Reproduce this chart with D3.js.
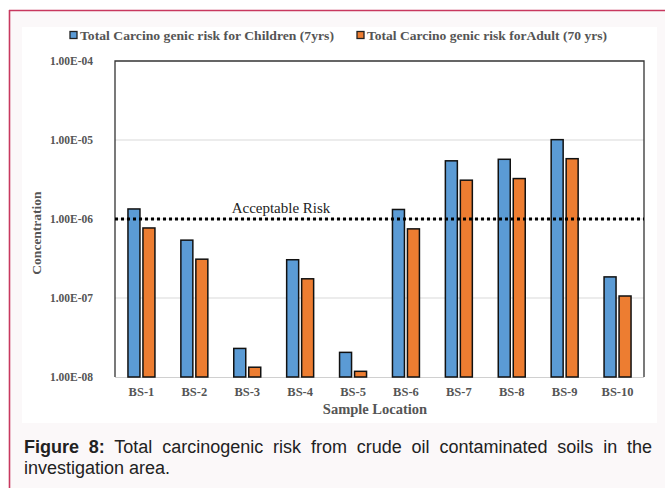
<!DOCTYPE html>
<html><head><meta charset="utf-8">
<script src="https://cdn.jsdelivr.net/npm/d3@7"></script>
<style>
html,body{margin:0;padding:0;background:#fff;}
svg{display:block;}
</style></head>
<body>
<svg id="c" width="665" height="488"></svg>
<script>
const categories = ["BS-1","BS-2","BS-3","BS-4","BS-5","BS-6","BS-7","BS-8","BS-9","BS-10"];
const childrenRisk = [1.34e-6, 5.4e-7, 2.3e-8, 3.05e-7, 2.05e-8, 1.32e-6, 5.45e-6, 5.7e-6, 1.01e-5, 1.85e-7];
const adultRisk = [7.7e-7, 3.1e-7, 1.33e-8, 1.75e-7, 1.18e-8, 7.5e-7, 3.1e-6, 3.25e-6, 5.8e-6, 1.06e-7];
const seriesNames = ["Total Carcino genic risk for Children (7yrs)", "Total Carcino genic risk forAdult (70 yrs)"];
const tickValues = [1e-8, 1e-7, 1e-6, 1e-5, 1e-4];
const tickLabels = ["1.00E-08","1.00E-07","1.00E-06","1.00E-05","1.00E-04"];
const acceptableRisk = 1e-6;
const colors = ["#5B9BD5", "#ED7D31"];
const serif = "'Liberation Serif','Times New Roman',serif";

const svg = d3.select("#c");
// figure frame
svg.append("rect").attr("x",9.5).attr("y",10.5).attr("width",660).attr("height",480).attr("fill","#fbf8f9");
svg.append("line").attr("x1",9.5).attr("x2",9.5).attr("y1",10).attr("y2",488).attr("stroke","#c8385f").attr("stroke-width",1.6);
svg.append("line").attr("x1",9).attr("x2",665).attr("y1",10.5).attr("y2",10.5).attr("stroke","#c8385f").attr("stroke-width",1.6);
svg.append("rect").attr("x",22).attr("y",27).attr("width",635).attr("height",396).attr("fill","#fff");

const m = {l:115, r:644, t:61, b:377};
const x = d3.scaleBand().domain(categories).range([m.l, m.r]).paddingInner(0.49).paddingOuter(0.245);
const xs = d3.scaleBand().domain([0,1]).range([0, x.bandwidth()]).paddingInner(0.2);
const y = d3.scaleLog().domain([1e-8, 1e-4]).range([m.b, m.t]);

// gridlines
svg.append("g").selectAll("line").data(tickValues.slice(1,4)).join("line")
  .attr("x1",m.l).attr("x2",m.r).attr("y1",d=>y(d)).attr("y2",d=>y(d))
  .attr("stroke","#d9d9d9").attr("stroke-width",1);
svg.append("line").attr("x1",m.l).attr("x2",m.r).attr("y1",m.b+0.5).attr("y2",m.b+0.5).attr("stroke","#d0d0d0");

// bars
const series = [childrenRisk, adultRisk];
series.forEach((vals, si) => {
  svg.append("g").selectAll("rect").data(categories).join("rect")
    .attr("x", (c) => x(c) + xs(si))
    .attr("width", xs.bandwidth())
    .attr("y", (c,i) => y(vals[i]))
    .attr("height", (c,i) => y(1e-8) - y(vals[i]))
    .attr("fill", colors[si]).attr("stroke","#111").attr("stroke-width",1.5);
});

// frame: left, top, right
svg.append("path").attr("d",`M${m.l},${m.b}V${m.t}H${m.r}V${m.b}`).attr("fill","none").attr("stroke","#333").attr("stroke-width",1.3);

// y axis labels
const yAxis = d3.axisLeft(y).tickValues(tickValues).tickFormat((d,i)=>tickLabels[i]).tickSize(0).tickPadding(22);
const ga = svg.append("g").attr("transform",`translate(${m.l},0)`).call(yAxis);
ga.select(".domain").remove();
ga.selectAll("text").attr("font-family",serif).attr("font-weight","bold").attr("font-size",11.5).attr("fill","#555");

// x axis labels
const xAxis = d3.axisBottom(x).tickSize(0).tickPadding(10);
const gx = svg.append("g").attr("transform",`translate(0,${m.b})`).call(xAxis);
gx.select(".domain").remove();
gx.selectAll("text").attr("font-family",serif).attr("font-weight","bold").attr("font-size",12.5).attr("fill","#555");

// acceptable risk line
svg.append("line").attr("x1",m.l).attr("x2",m.r).attr("y1",y(acceptableRisk)).attr("y2",y(acceptableRisk))
  .attr("stroke","#000").attr("stroke-width",3).attr("stroke-dasharray","3,3");
svg.append("text").attr("x",281).attr("y",y(acceptableRisk)-6).attr("text-anchor","middle")
  .attr("font-family",serif).attr("font-size",15).attr("fill","#222").text("Acceptable Risk");

// axis titles
svg.append("text").attr("x",375).attr("y",414).attr("text-anchor","middle")
  .attr("font-family",serif).attr("font-weight","bold").attr("font-size",14.5).attr("fill","#555").text("Sample Location");
svg.append("text").attr("transform",`translate(41,233) rotate(-90)`).attr("text-anchor","middle")
  .attr("font-family",serif).attr("font-weight","bold").attr("font-size",13.5).attr("fill","#555").text("Concentration");

// legend
const legX = [70, 357], legW = [254, 240];
seriesNames.forEach((n,i)=>{
  svg.append("rect").attr("x",legX[i]).attr("y",31.5).attr("width",7).attr("height",7).attr("fill",colors[i]).attr("stroke","#222").attr("stroke-width",1.3);
  svg.append("text").attr("x",legX[i]+10).attr("y",39.5)
    .attr("textLength",legW[i]).attr("lengthAdjust","spacingAndGlyphs")
    .attr("font-family",serif).attr("font-weight","bold").attr("font-size",12.5).attr("fill","#555").text(n);
});

// caption
const cap = svg.append("g").attr("font-family","'Liberation Sans',Arial,sans-serif").attr("font-size",18).attr("fill","#222");
const t1 = cap.append("text").attr("x",24).attr("y",453);
t1.append("tspan").attr("font-weight","bold").text("Figure 8:");
t1.append("tspan").text(" Total carcinogenic risk from crude oil contaminated soils in the");
const natural = t1.node().getComputedTextLength();
const spaces = 11;
t1.attr("word-spacing", Math.max(0,(652 - 24 - natural)/spaces));
cap.append("text").attr("x",24).attr("y",474).text("investigation area.");
</script>
</body></html>
